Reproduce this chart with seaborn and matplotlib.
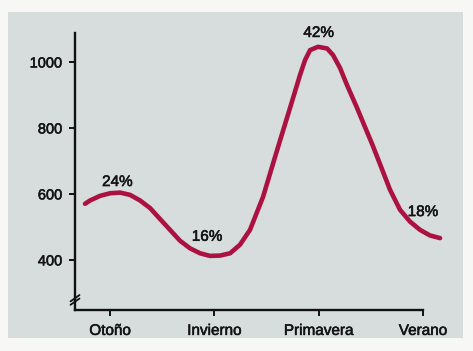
import pandas as pd
import matplotlib
matplotlib.use("Agg")
import matplotlib.pyplot as plt
import matplotlib.patheffects as pe
from matplotlib.patches import Rectangle
import seaborn as sns

# --- data ---
seasons = ["Otoño", "Invierno", "Primavera", "Verano"]
shares = ["24%", "16%", "42%", "18%"]

# points along the drawn curve (x = season index, y = value)
curve_x = [-0.240, -0.192, -0.096, 0.000, 0.096, 0.192, 0.288, 0.384, 0.479,
           0.575, 0.671, 0.767, 0.863, 0.959, 1.055, 1.151, 1.246, 1.342,
           1.467, 1.563, 1.630, 1.697, 1.755, 1.822, 1.870, 1.918, 1.994,
           2.081, 2.138, 2.205, 2.272, 2.368, 2.464, 2.512, 2.589, 2.685,
           2.780, 2.876, 2.972, 3.068, 3.164]
curve_y = [570, 580, 594, 602, 604, 597, 580, 557, 524,
           491, 458, 435, 420, 412, 413, 420, 446, 491,
           591, 692, 762, 831, 891, 961, 1006, 1036, 1046,
           1041, 1021, 982, 930, 861, 788, 752, 690, 612,
           552, 516, 491, 474, 466]

# where each percentage label sits
label_x = [0.07, 0.93, 2.0, 3.0]
label_y = [636, 470, 1088, 545]

yticks = [400, 600, 800, 1000]

df = pd.DataFrame({"x": curve_x, "y": curve_y})

# --- style ---
sns.set_style("ticks")
plt.rcParams["font.family"] = ["Liberation Sans", "DejaVu Sans"]

LINE = "#ac1241"
PANEL = "#d6dddc"
INK = "#141414"
thick = [pe.withStroke(linewidth=0.4, foreground=INK)]

fig = plt.figure(figsize=(4.73, 3.51), dpi=100, facecolor="#f7f7f5")
fig.add_artist(Rectangle((8 / 473, 13 / 351), 455 / 473, 326 / 351,
                         transform=fig.transFigure, facecolor=PANEL,
                         edgecolor="none", zorder=-10))

ax = fig.add_axes([75 / 473, 41 / 351, 374 / 473, 287.6 / 351])
ax.set_facecolor("none")

sns.lineplot(data=df, x="x", y="y", ax=ax, color=LINE, linewidth=3.3,
             solid_capstyle="round", solid_joinstyle="round", clip_on=False)

for lx, ly, txt in zip(label_x, label_y, shares):
    ax.text(lx, ly, txt, ha="center", va="center", fontsize=11,
            color=INK, clip_on=False, path_effects=thick)

ax.set_xlim(-0.336, 3.25)
ax.set_ylim(248, 1120)
ax.set_xticks(range(len(seasons)))
ax.set_xticklabels(seasons)
ax.set_yticks(yticks)
ax.set_xlabel("")
ax.set_ylabel("")

for s in ["top", "right"]:
    ax.spines[s].set_visible(False)
ax.spines["left"].set_bounds(248, 1088)
ax.spines["bottom"].set_bounds(-0.336, 3)
for s in ["left", "bottom"]:
    ax.spines[s].set_linewidth(1.7)
    ax.spines[s].set_color("#111111")

ax.tick_params(axis="both", length=4, width=1.4, colors="#111111",
               labelcolor=INK)
ax.tick_params(axis="x", pad=6, labelsize=11)
ax.tick_params(axis="y", pad=5, labelsize=10.5)
for lab in ax.get_xticklabels() + ax.get_yticklabels():
    lab.set_path_effects(thick)

# axis break mark near the bottom of the y axis
for dy in (0, 0.012):
    ax.plot([-0.012, 0.012], [0.018 + dy, 0.040 + dy], transform=ax.transAxes,
            color="#111111", linewidth=1.3, clip_on=False)

fig.savefig("out.png", dpi=100, facecolor=fig.get_facecolor())
